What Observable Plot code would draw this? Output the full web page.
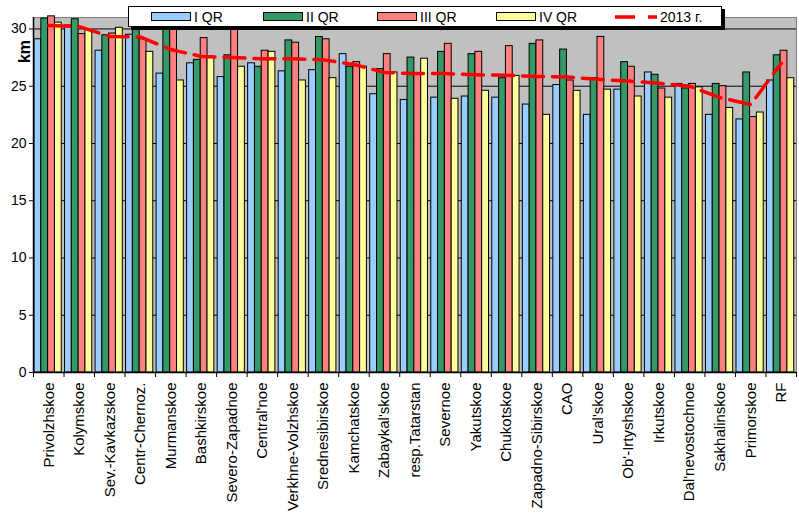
<!DOCTYPE html>
<html>
<head>
<meta charset="utf-8">
<script src="https://cdn.jsdelivr.net/npm/d3@7"></script>
<script src="https://cdn.jsdelivr.net/npm/@observablehq/plot@0.6"></script>
<style>
  body { margin: 0; background: white; }
  #wrap { position: relative; width: 799px; height: 520px; font-family: "Liberation Sans", Arial, sans-serif; }
  #legend { position: absolute; left: 128px; top: 6px; width: 592px; height: 19px; background: white;
            border: 1px solid black; box-shadow: 3px 3px 0 black; font-size: 14px; }
  .item { position: absolute; top: 0; height: 19px; display: flex; align-items: center; }
  .sw { width: 38px; height: 7px; border: 1px solid black; margin-right: 3px; }
</style>
</head>
<body>
<div id="wrap"></div>
<script>
const categories = ["Privolzhskoe","Kolymskoe","Sev.-Kavkazskoe","Centr-Chernoz.","Murmanskoe","Bashkirskoe","Severo-Zapadnoe","Central'noe","Verkhne-Volzhskoe","Srednesibirskoe","Kamchatskoe","Zabaykal'skoe","resp.Tatarstan","Severnoe","Yakutskoe","Chukotskoe","Zapadno-Sibirskoe","CAO","Ural'skoe","Ob'-Irtyshskoe","Irkutskoe","Dal'nevostochnoe","Sakhalinskoe","Primorskoe","RF"];
const seriesNames = ["I QR","II QR","III QR","IV QR"];
const lineName = "2013 г.";
const q1 = [29.1,30.3,28.1,29.5,26.1,27.0,25.8,27.0,26.3,26.4,27.8,24.3,23.8,24.0,24.1,24.0,23.4,25.1,22.5,24.7,26.2,25.2,22.5,22.1,25.5];
const q2 = [30.9,30.85,29.45,30.2,30.2,27.3,27.7,26.7,29.0,29.3,26.7,26.5,27.5,28.0,27.8,25.7,28.7,28.2,25.7,27.1,26.0,24.8,25.2,26.2,27.7];
const q3 = [31.1,29.55,29.6,29.1,30.2,29.2,30.0,28.1,28.8,29.1,27.1,27.8,26.1,28.7,28.0,28.5,29.0,25.5,29.3,26.7,24.8,25.2,25.0,22.3,28.1];
const q4 = [30.55,29.9,30.1,28.0,25.5,27.6,26.7,28.0,25.5,25.7,26.7,26.2,27.4,23.9,24.6,25.9,22.5,24.6,24.7,24.1,24.0,24.9,23.1,22.7,25.7];
const y2013 = [30.3,30.2,29.35,29.3,28.2,27.6,27.5,27.4,27.4,27.3,26.9,26.2,26.1,26.1,26.0,25.95,25.85,25.8,25.6,25.45,25.25,25.0,24.0,23.4,27.0];
const yTicks = [0,5,10,15,20,25,30];
const colors = ["#99CCFF","#339966","#FF8080","#FFFF99"];

const seriesValues = [q1,q2,q3,q4];
const barOffset = 0.033, barW = 0.223;
const bars = [];
categories.forEach((c, i) => {
  seriesValues.forEach((arr, j) => {
    bars.push({cat: c, series: seriesNames[j], value: arr[i],
               x1: i + barOffset + j * barW, x2: i + barOffset + (j + 1) * barW});
  });
});
const lineData = categories.map((c, i) => ({cat: c, x: i + 0.5, value: y2013[i]}));
const boundaries = d3.range(0, categories.length + 1);
const centers = categories.map((c, i) => i + 0.5);

const chart = Plot.plot({
  width: 799, height: 520,
  marginLeft: 33, marginRight: 3, marginTop: 17, marginBottom: 148,
  x: {domain: [0, categories.length]},
  y: {domain: [0, 31]},
  color: {domain: seriesNames, range: colors},
  style: {fontFamily: "'Liberation Sans', Arial, sans-serif", fontSize: "14px", color: "black", background: "white"},
  marks: [
    Plot.frame({fill: "#C0C0C0", stroke: "#808080"}),
    Plot.ruleY(yTicks.filter(d => d > 0), {stroke: "black", strokeWidth: 1}),
    Plot.rectY(bars, {x1: "x1", x2: "x2", y1: 0, y2: "value", fill: "series", stroke: "black", strokeWidth: 1}),
    Plot.line(lineData, {x: "x", y: "value", stroke: "#FF0000", strokeWidth: 3.5, strokeDasharray: "21,9"}),
    Plot.ruleX([0], {stroke: "black", strokeWidth: 1.5}),
    Plot.ruleY([0], {stroke: "black", strokeWidth: 1.5}),
    Plot.axisY({ticks: yTicks, tickSize: 4, tickPadding: 3, fontSize: 14, label: null}),
    Plot.axisX({ticks: boundaries, tickSize: 5, tickFormat: () => "", label: null}),
    Plot.axisX({ticks: centers, tickSize: 0, tickPadding: 10, tickRotate: -90, fontSize: 15,
                tickFormat: d => categories[Math.floor(d)], label: null}),
    Plot.text(["km"], {frameAnchor: "top-left", dx: -15, dy: 34, rotate: -90, textAnchor: "middle",
                       fontWeight: "bold", fontSize: 16})
  ]
});
const wrap = document.getElementById("wrap");
wrap.appendChild(chart);

const legend = document.createElement("div");
legend.id = "legend";
const positions = [22, 134, 248, 367];
seriesNames.forEach((s, j) => {
  const it = document.createElement("div");
  it.className = "item";
  it.style.left = positions[j] + "px";
  it.innerHTML = `<span class="sw" style="background:${colors[j]}"></span><span>${s}</span>`;
  legend.appendChild(it);
});
const li = document.createElement("div");
li.className = "item";
li.style.left = "486px";
li.innerHTML = `<svg width="42" height="10" style="margin-right:3px"><line x1="0" x2="42" y1="5" y2="5" stroke="#FF0000" stroke-width="3.5" stroke-dasharray="20,13"/></svg><span>${lineName}</span>`;
legend.appendChild(li);
wrap.appendChild(legend);
</script>
</body>
</html>
